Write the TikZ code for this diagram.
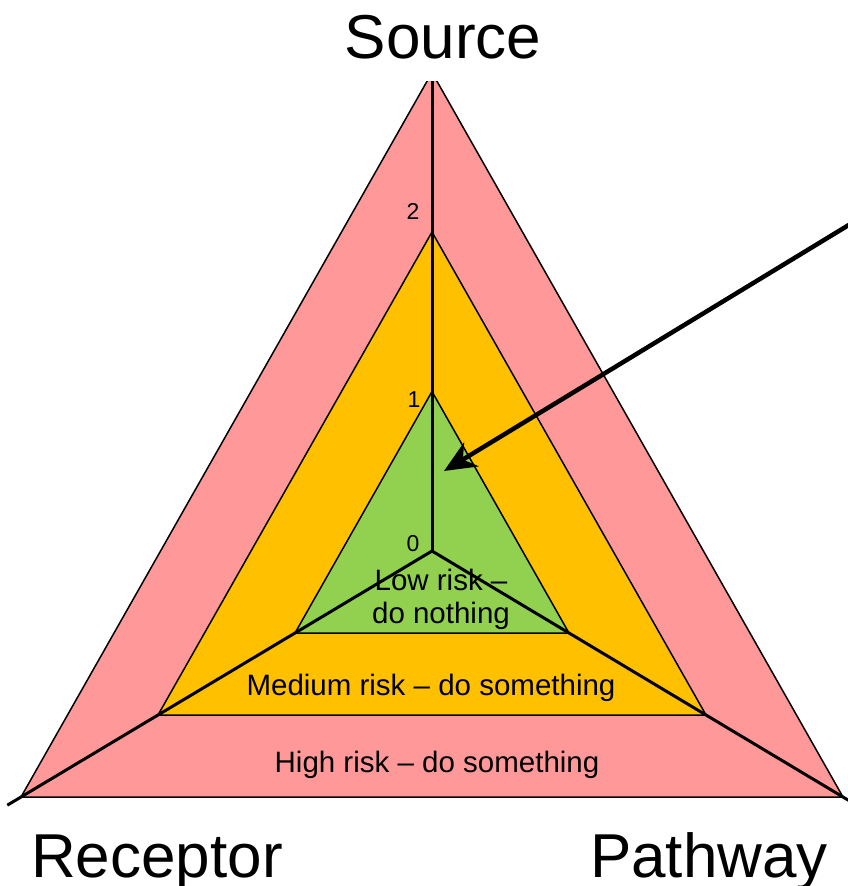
\documentclass[tikz,border=0pt]{standalone}
\usepackage{fontspec}
\setmainfont{Liberation Sans}
\usetikzlibrary{arrows.meta,calc}
\definecolor{highrisk}{HTML}{FF9999}
\definecolor{medrisk}{HTML}{FFC000}
\definecolor{lowrisk}{HTML}{92D050}
\begin{document}
\begin{tikzpicture}[x=1pt,y=-1pt,
  zone/.style={draw=black,line width=1.5pt,line join=miter},
  spoke/.style={draw=black,line width=3pt},
  axislabel/.style={font=\fontsize{62}{74}\selectfont,anchor=base,inner sep=0pt},
  zonelabel/.style={font=\fontsize{29.5}{33}\selectfont,anchor=base,inner sep=0pt},
  ticklabel/.style={font=\fontsize{23}{27}\selectfont,inner sep=0pt},
  pointer/.style={draw=black,line width=4.5pt,-{Stealth[length=32pt,width=28pt,inset=10pt]}}]
\useasboundingbox (0,0) rectangle (848,886);
\clip (0,0) rectangle (848,886);

% centre of the chart and one unit along each axis
\coordinate (O) at (432,551);
\coordinate (us) at (0,-159.5);
\coordinate (ur) at (-137,82);
\coordinate (up) at (137,82);

\foreach \k in {1,2,3}{
  \coordinate (S\k) at ($(O)+\k*(us)$);
  \coordinate (R\k) at ($(O)+\k*(ur)$);
  \coordinate (P\k) at ($(O)+\k*(up)$);
}
\coordinate (Rend) at ($(O)+3.1*(ur)$);
\coordinate (Pend) at ($(O)+3.1*(up)$);
\coordinate (Send) at ($(O)+3.1*(us)$);

\begin{scope}
  \clip (0,81) rectangle (848,886);
  \path[zone,fill=highrisk] (S3) -- (R3) -- (P3) -- cycle;
  \path[zone,fill=medrisk] (S2) -- (R2) -- (P2) -- cycle;
  \path[zone,fill=lowrisk] (S1) -- (R1) -- (P1) -- cycle;
  \draw[spoke] (O) -- (Send);
  \draw[spoke] (O) -- (Rend);
  \draw[spoke] (O) -- (Pend);
\end{scope}

% scale on the source axis
\node[ticklabel] (t0) at (413,544) {0};
\node[ticklabel] (t1) at (414,400) {1};
\node[ticklabel] (t2) at (413,211) {2};

% zone captions
\node[zonelabel,align=center] (low) at (441,623) {Low risk --\\[-0.5pt]do nothing};
\node[zonelabel] (med) at (431,695) {Medium risk -- do something};
\node[zonelabel] (high) at (437,772) {High risk -- do something};

% axis names
\node[axislabel] (source) at (443,58) {Source};
\node[axislabel] (receptor) at (157,877) {Receptor};
\node[axislabel] (pathway) at (709,877) {Pathway};

% pointer into the low-risk zone
\coordinate (tail) at (880,206);
\coordinate (tip) at (444,471);
\draw[pointer] (tail) -- (tip);
\end{tikzpicture}
\end{document}
